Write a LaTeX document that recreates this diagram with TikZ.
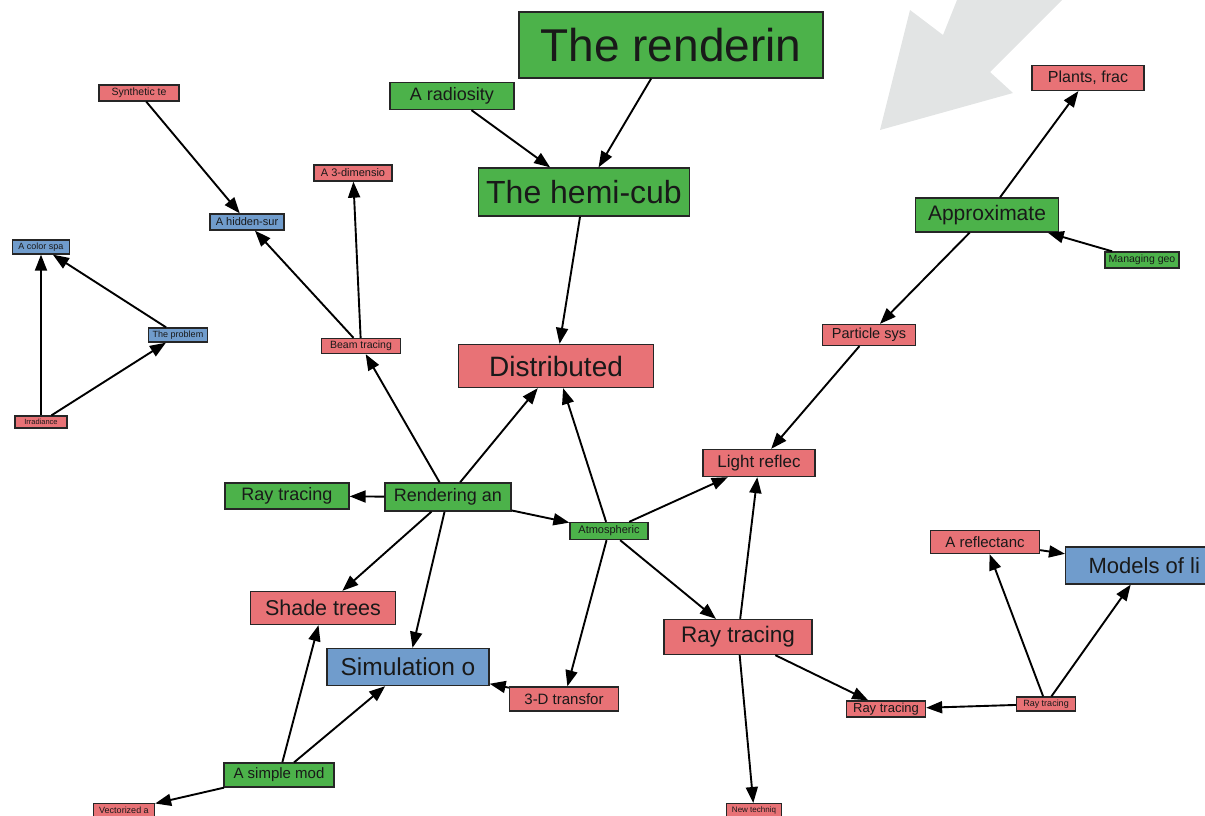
\documentclass[tikz,border=0pt]{standalone}
\usepackage{fontspec}
\setmainfont{Liberation Sans}
\usetikzlibrary{arrows.meta}
\definecolor{ngreen}{RGB}{76,178,74}
\definecolor{nred}{RGB}{232,114,118}
\definecolor{nblue}{RGB}{112,156,204}
\definecolor{ghost}{RGB}{226,228,228}
\tikzset{
  box/.style={draw=black!85, line width=1.3pt, inner sep=0pt, text=black!90},
  gbox/.style={box, fill=ngreen},
  rbox/.style={box, fill=nred},
  bbox/.style={box, fill=nblue},
  fs/.style={font=\fontsize{#1}{#1}\selectfont},
  link/.style={line width=1.9pt, -{Triangle[length=16pt,width=12pt]}},
}
\begin{document}
\begin{tikzpicture}[x=1pt, y=-1pt]
\useasboundingbox (0,0) rectangle (1205,816);

% large pale arrow in the upper right
\fill[ghost] (880,130) -- (910,10) -- (943,35) -- (957,0) -- (1062,0)
  -- (990,72) -- (1013,93) -- cycle;

% nodes
\node[gbox, fs=46, minimum width=304, minimum height=66] (rend) at (671,45) {The renderin};
\node[gbox, fs=18, minimum width=124, minimum height=27] (radio) at (452,96) {A radiosity};
\node[gbox, fs=32, minimum width=211, minimum height=48] (hemi) at (584,192) {The hemi-cub};
\node[rbox, fs=10.5, minimum width=80, minimum height=16] (synth) at (139,93) {Synthetic te};
\node[rbox, fs=11, minimum width=78, minimum height=16] (threed) at (353,173) {A 3-dimensio};
\node[bbox, fs=11, minimum width=74, minimum height=16] (hidden) at (247,222) {A hidden-sur};
\node[bbox, fs=9, minimum width=57, minimum height=14] (color) at (41,247) {A color spa};
\node[bbox, fs=9, minimum width=59, minimum height=14] (problem) at (178,335) {The problem};
\node[rbox, fs=7.5, minimum width=52, minimum height=12] (irrad) at (41,422) {Irradiance};
\node[rbox, fs=10.5, minimum width=79, minimum height=15] (beam) at (361,346) {Beam tracing};
\node[rbox, fs=28, minimum width=195, minimum height=43] (distr) at (556,366) {Distributed};
\node[rbox, fs=16, minimum width=112, minimum height=25] (plants) at (1088,78) {Plants, frac};
\node[gbox, fs=21, minimum width=143, minimum height=34] (approx) at (987,215) {Approximate};
\node[gbox, fs=10.5, minimum width=74, minimum height=16] (manag) at (1142,260) {Managing geo};
\node[rbox, fs=14.5, minimum width=93, minimum height=21] (partic) at (869,335) {Particle sys};
\node[rbox, fs=17, minimum width=112, minimum height=27] (light) at (759,463) {Light reflec};
\node[gbox, fs=18, minimum width=124, minimum height=26] (raygr) at (287,496) {Ray tracing};
\node[gbox, fs=18, minimum width=126, minimum height=28] (rendan) at (448,497) {Rendering an};
\node[gbox, fs=11, minimum width=78, minimum height=17] (atmos) at (609,531) {Atmospheric};
\node[rbox, fs=15, minimum width=109, minimum height=23] (reflect) at (985,542) {A reflectanc};
\node[bbox, fs=22, inner xsep=23pt, minimum height=37, anchor=west] (models) at (1065,565.5) {Models of li};
\node[rbox, fs=21.5, minimum width=145, minimum height=33] (shade) at (323,608) {Shade trees};
\node[rbox, fs=22.5, minimum width=148, minimum height=35] (raybig) at (738,637) {Ray tracing};
\node[bbox, fs=24.5, minimum width=162, minimum height=37] (simul) at (408,667) {Simulation o};
\node[rbox, fs=15, minimum width=109, minimum height=24] (transf) at (564,699) {3-D transfor};
\node[rbox, fs=13, minimum width=79, minimum height=16] (raysm) at (886,709) {Ray tracing};
\node[rbox, fs=9, minimum width=59, minimum height=14] (raytiny) at (1046,704) {Ray tracing};
\node[gbox, fs=15, minimum width=110, minimum height=24] (simple) at (279,775) {A simple mod};
\node[rbox, fs=9, minimum width=61, minimum height=14, anchor=north] (vector) at (124,803) {Vectorized a};
\node[rbox, fs=8, minimum width=55, minimum height=14, anchor=north] (newtech) at (754,803) {New techniq};

% connectors
\draw[link] (rend) -- (hemi);
\draw[link] (radio) -- (hemi);
\draw[link] (hemi) -- (distr);
\draw[link] (synth) -- (hidden);
\draw[link] (beam) -- (hidden);
\draw[link] (beam) -- (threed);
\draw[link] (problem) -- (color);
\draw[link] (irrad) -- (color);
\draw[link] (irrad) -- (problem);
\draw[link] (rendan) -- (beam);
\draw[link] (rendan) -- (distr);
\draw[link] (rendan) -- (raygr);
\draw[link] (rendan) -- (atmos);
\draw[link] (rendan) -- (shade);
\draw[link] (rendan) -- (simul);
\draw[link] (atmos) -- (distr);
\draw[link] (atmos) -- (light);
\draw[link] (atmos) -- (raybig);
\draw[link] (atmos) -- (transf);
\draw[link] (approx) -- (plants);
\draw[link] (manag) -- (approx);
\draw[link] (approx) -- (partic);
\draw[link] (partic) -- (light);
\draw[link] (raybig) -- (light);
\draw[link] (raybig) -- (raysm);
\draw[link] (raybig) -- (newtech);
\draw[link] (raytiny) -- (raysm);
\draw[link] (raytiny) -- (reflect);
\draw[link] (raytiny) -- (models);
\draw[link] (reflect) -- (models);
\draw[link] (transf) -- (simul);
\draw[link] (simple) -- (shade);
\draw[link] (simple) -- (simul);
\draw[link] (simple) -- (vector);
\end{tikzpicture}
\end{document}
